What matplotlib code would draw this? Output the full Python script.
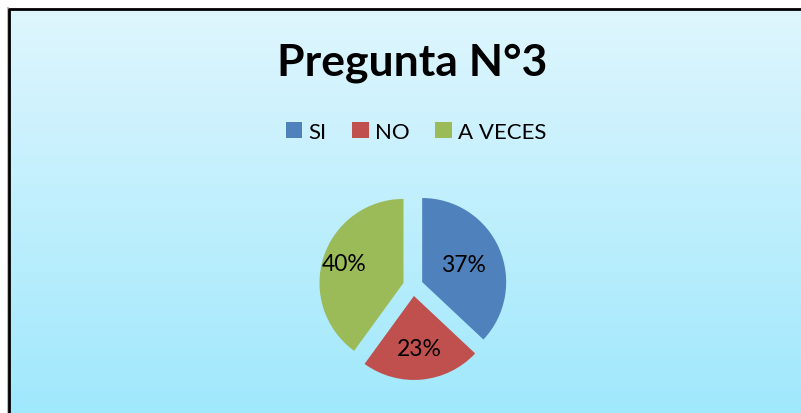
import numpy as np
import matplotlib
matplotlib.use("Agg")
import matplotlib.pyplot as plt
from matplotlib.colors import LinearSegmentedColormap

# Chart data
title = "Pregunta N°3"
labels = ["SI", "NO", "A VECES"]
values = [37, 23, 40]
colors = ["#4F81BD", "#C0504D", "#9BBB59"]
label_dist = [0.53, 0.63, 0.74]  # where each % label sits (fraction of radius)

W, H = 801, 414
fig = plt.figure(figsize=(W / 100, H / 100), dpi=100)
fig.patch.set_facecolor("white")

# work in pixel coords, y up
ax = fig.add_axes([0, 0, 1, 1])
ax.set_xlim(0, W)
ax.set_ylim(0, H)
ax.axis("off")

# gradient chart area with black frame
left, top = 9, H - 10
grad = LinearSegmentedColormap.from_list("bg", ["#9FE8FC", "#DFF6FE"])
ax.imshow(np.linspace(0, 1, 256).reshape(-1, 1), cmap=grad, aspect="auto",
          extent=[left, W + 5, -5, top], origin="lower", zorder=0)
ax.plot([left - 1.5, left - 1.5], [-5, top + 1], color="#BBBBBB", lw=1.5, zorder=1)
ax.plot([left, left, W + 5], [-5, top, top], color="black", lw=2, zorder=2)

font = "Lato"
ax.text(412, H - 63, title, ha="center", va="center", fontsize=32,
        fontweight="bold", family=font, zorder=3)

# pie (explode is in data units = pixels here)
cx, cy, r = 413, H - 287, 84
wedges, texts, autotexts = ax.pie(
    values, colors=colors, startangle=90, counterclock=False,
    center=(cx, cy), radius=r, explode=[10] * 3,
    autopct="%1.0f%%", textprops={"fontsize": 16.5, "family": font},
    wedgeprops={"linewidth": 0}, frame=True)
ax.set_xlim(0, W)
ax.set_ylim(0, H)
ax.set_aspect("equal")
ax.axis("off")
for w, t, d in zip(wedges, autotexts, label_dist):
    ang = np.deg2rad((w.theta1 + w.theta2) / 2)
    wx, wy = w.center
    t.set_position((wx + d * r * np.cos(ang), wy + d * r * np.sin(ang)))
    t.set_zorder(5)

leg = ax.legend(wedges, labels, loc="center", bbox_to_anchor=(416 / W, 1 - 133 / H),
                ncol=3, frameon=False, prop={"family": font, "size": 16},
                handlelength=0.75, handleheight=0.75, handletextpad=0.28,
                columnspacing=1.15, borderaxespad=0)

fig.savefig("out.png", dpi=100)
